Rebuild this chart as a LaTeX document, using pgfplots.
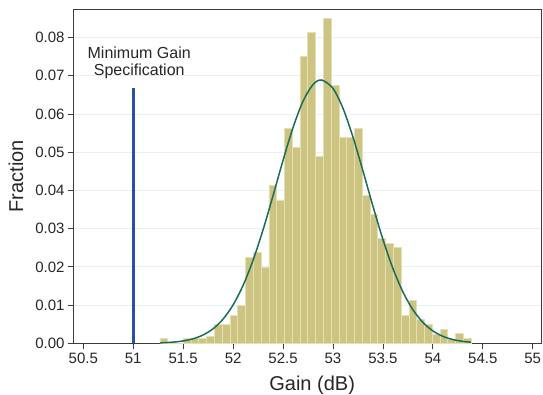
\documentclass[border=0pt]{standalone}
\usepackage{fontspec}
\setmainfont{Liberation Sans}
\usepackage{pgfplots}
\pgfplotsset{compat=1.18}
\definecolor{barfill}{RGB}{204,196,128}
\definecolor{baredge}{RGB}{228,224,182}
\definecolor{fitcol}{RGB}{28,108,92}
\definecolor{speccol}{RGB}{42,76,170}
\definecolor{gridcol}{RGB}{230,241,243}
\definecolor{axcol}{RGB}{60,60,60}
\begin{document}
\begin{tikzpicture}
\useasboundingbox (0,0) rectangle (543pt,395pt);
\begin{axis}[
  at={(74pt,51.7pt)}, anchor=south west,
  scale only axis, width=467pt, height=334pt,
  xmin=50.407, xmax=55.083, ymin=0, ymax=0.0874,
  xtick={50.5,51,51.5,52,52.5,53,53.5,54,54.5,55},
  ytick={0,0.01,0.02,0.03,0.04,0.05,0.06,0.07,0.08},
  xtick pos=bottom, ytick pos=left,
  tick align=outside, major tick length=6pt,
  tick style={axcol, line width=0.8pt},
  axis line style={axcol, line width=1pt},
  ymajorgrids, major grid style={gridcol, line width=0.8pt},
  scaled y ticks=false,
  /pgf/number format/assume math mode=true,
  yticklabel style={/pgf/number format/.cd, fixed, fixed zerofill, precision=2},
  ticklabel style={font=\fontsize{15}{18}\selectfont, text=black!85},
  xlabel={Gain (dB)}, ylabel={Fraction},
  every axis x label/.style={at={(axis description cs:0.51,-0.125)}, anchor=center, font=\fontsize{20}{24}\selectfont, text=black!85},
  every axis y label/.style={at={(axis description cs:-0.124,0.5)}, rotate=90, anchor=center, font=\fontsize{20}{24}\selectfont, text=black!85},
]
\addplot[ybar interval, fill=barfill, draw=baredge, line width=0.7pt] coordinates {
(51.267,0.0013) (51.345,0) (51.423,0) (51.501,0.0013) (51.579,0.0013)
(51.657,0.0013) (51.734,0.0019) (51.812,0.005) (51.890,0.005) (51.968,0.0074)
(52.046,0.0100) (52.124,0.0225) (52.202,0.0238) (52.280,0.0200) (52.358,0.0413)
(52.436,0.0375) (52.513,0.0563) (52.591,0.0513) (52.669,0.0750) (52.747,0.0813)
(52.825,0.0489) (52.903,0.0850) (52.981,0.0675) (53.059,0.0538) (53.137,0.0538)
(53.215,0.0563) (53.292,0.0387) (53.370,0.0338) (53.448,0.0275) (53.526,0.0262)
(53.604,0.0250) (53.682,0.0074) (53.760,0.0113) (53.838,0.0063) (53.916,0.0050)
(53.994,0.0024) (54.071,0.0037) (54.149,0.0010) (54.227,0.0026) (54.305,0.0013)
(54.383,0.0013)
};
\addplot[fitcol, line width=1.5pt, smooth, mark=none] coordinates {
(51.27,0.000113) (51.4,0.000305) (51.5,0.000617) (51.6,0.00119) (51.7,0.00218)
(51.8,0.00381) (51.9,0.00635) (52.0,0.01005) (52.1,0.01515) (52.2,0.02174)
(52.3,0.02971) (52.4,0.03865) (52.5,0.04787) (52.6,0.05643) (52.7,0.06334)
(52.8,0.06769) (52.885,0.0689) (53.0,0.06669) (53.1,0.0615) (53.2,0.05399)
(53.3,0.04512) (53.4,0.0359) (53.5,0.02719) (53.6,0.01961) (53.7,0.01346)
(53.8,0.0088) (53.9,0.00548) (54.0,0.00324) (54.1,0.00183) (54.2,0.00098)
(54.3,0.00050) (54.38,0.00028)
};
\addplot[speccol, line width=2.6pt, mark=none] coordinates {(51,0) (51,0.0668)};
\node[font=\fontsize{16}{17}\selectfont, text=black!85, align=center, anchor=south]
  at (axis cs:51.06,0.0684) {Minimum Gain\\Specification};
\end{axis}
\end{tikzpicture}
\end{document}
